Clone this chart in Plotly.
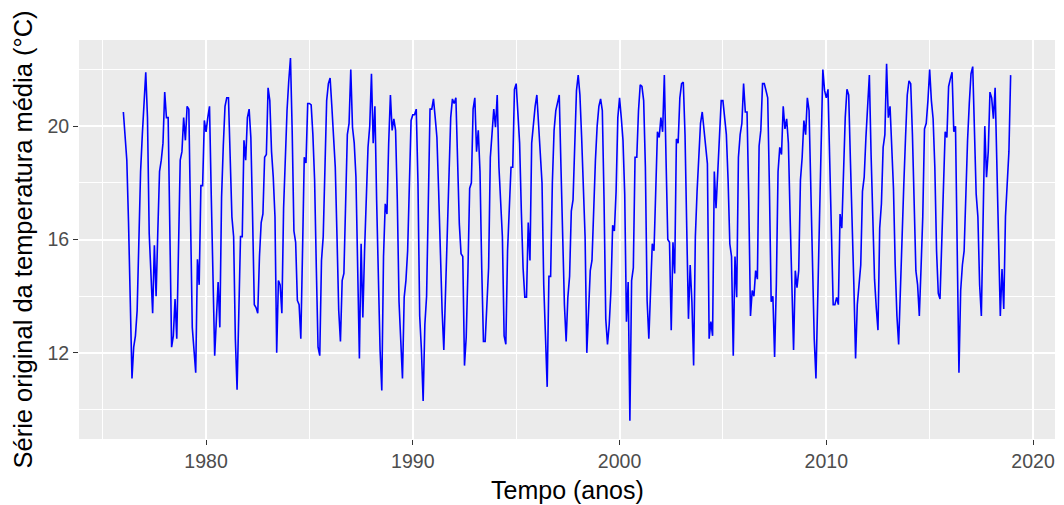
import plotly.graph_objects as go

# Monthly mean temperature (°C), Jan..Dec for each year
t1976 = [20.5, 19.7, 18.8, 16.6, 13.9, 11.1, 12.2, 12.6, 13.5, 16.1, 18.4, 19.7]
t1977 = [20.7, 21.9, 20.3, 16.2, 14.8, 13.4, 15.8, 14.0, 16.3, 18.4, 18.8, 19.4]
t1978 = [21.2, 20.3, 20.3, 16.1, 12.2, 12.6, 13.9, 12.5, 16.0, 18.8, 19.1, 20.3]
t1979 = [19.5, 20.7, 20.6, 16.5, 12.9, 12.1, 11.3, 15.3, 14.4, 17.9, 17.9, 20.2]
t1980 = [19.8, 20.3, 20.7, 17.6, 14.7, 11.9, 13.2, 14.5, 12.9, 17.5, 19.3, 20.7]
t1981 = [21.0, 21.0, 18.9, 16.8, 16.1, 12.5, 10.7, 13.4, 16.1, 16.1, 19.5, 18.8]
t1982 = [20.3, 20.6, 19.6, 16.8, 13.7, 13.6, 13.4, 15.4, 16.6, 16.9, 18.9, 19.0]
t1983 = [21.35, 20.9, 19.1, 18.2, 16.8, 12.0, 14.55, 14.4, 13.4, 17.1, 19.1, 20.55]
t1984 = [21.6, 22.4, 19.8, 16.3, 15.9, 13.85, 13.7, 12.5, 15.6, 18.9, 18.7, 20.8]
t1985 = [20.8, 20.75, 19.7, 18.1, 15.0, 12.2, 11.9, 15.26, 16.1, 18.8, 20.9, 21.5]
t1986 = [21.7, 20.7, 19.7, 18.55, 16.1, 13.5, 12.4, 14.55, 14.8, 17.7, 19.7, 20.1]
t1987 = [22.0, 19.96, 19.4, 18.2, 14.5, 11.8, 15.85, 13.25, 15.6, 17.6, 19.25, 20.0]
t1988 = [21.85, 19.4, 20.7, 17.4, 14.2, 12.1, 10.67, 15.4, 17.26, 16.9, 19.4, 21.1]
t1989 = [19.85, 20.26, 19.85, 17.4, 13.8, 12.3, 11.1, 13.96, 14.55, 15.6, 17.5, 20.2]
t1990 = [20.4, 20.4, 20.6, 18.0, 13.3, 12.1, 10.3, 13.0, 14.0, 17.5, 20.6, 20.6]
t1991 = [20.96, 20.3, 19.6, 17.7, 15.4, 13.5, 12.1, 14.2, 16.3, 18.55, 20.3, 20.96]
t1992 = [20.8, 21.0, 18.8, 16.55, 15.5, 15.4, 11.55, 12.55, 14.9, 17.8, 18.0, 20.6]
t1993 = [21.0, 19.1, 19.85, 18.4, 15.0, 12.4, 12.4, 13.5, 15.0, 18.9, 19.7, 20.6]
t1994 = [19.96, 21.1, 18.55, 17.4, 16.1, 12.6, 12.3, 15.6, 17.4, 18.55, 18.55, 21.3]
t1995 = [21.5, 20.3, 19.4, 17.0, 15.0, 13.96, 13.96, 16.6, 15.26, 19.4, 20.1, 20.7]
t1996 = [21.1, 20.1, 19.1, 18.0, 14.4, 12.3, 10.8, 14.7, 14.7, 18.0, 19.85, 20.55]
t1997 = [20.85, 21.1, 18.55, 15.6, 13.7, 12.4, 13.96, 14.7, 17.0, 17.4, 19.7, 21.26]
t1998 = [21.8, 21.1, 19.6, 17.5, 16.1, 12.0, 13.5, 14.9, 15.26, 17.4, 18.8, 20.0]
t1999 = [20.7, 20.96, 20.55, 17.4, 13.2, 12.3, 13.0, 14.2, 16.5, 16.3, 17.7, 20.3]
t2000 = [21.0, 20.3, 19.5, 17.6, 13.1, 14.5, 9.6, 14.55, 15.0, 18.9, 18.9, 20.55]
t2001 = [21.46, 21.4, 20.9, 18.55, 13.85, 12.5, 14.0, 15.85, 15.6, 17.96, 19.8, 19.6]
t2002 = [20.3, 19.8, 21.8, 18.8, 16.0, 15.9, 12.8, 15.9, 14.8, 19.55, 19.4, 21.0]
t2003 = [21.5, 21.55, 19.7, 16.4, 13.2, 15.1, 13.8, 11.55, 16.1, 17.7, 18.9, 20.1]
t2004 = [20.5, 19.96, 19.25, 18.67, 12.5, 13.1, 12.6, 18.4, 17.1, 18.3, 19.85, 20.9]
t2005 = [20.9, 20.4, 19.7, 18.1, 15.85, 15.4, 11.9, 15.4, 13.96, 18.9, 19.7, 20.1]
t2006 = [21.5, 20.5, 20.5, 17.4, 13.3, 14.2, 14.0, 14.9, 14.6, 19.3, 19.85, 21.5]
t2007 = [21.5, 21.26, 21.0, 17.8, 13.8, 14.0, 11.85, 14.4, 18.4, 19.25, 19.0, 20.7]
t2008 = [19.9, 20.26, 19.4, 16.8, 13.85, 12.1, 14.9, 14.3, 14.9, 18.1, 18.9, 20.2]
t2009 = [19.7, 21.0, 20.55, 18.0, 15.6, 12.5, 11.1, 14.1, 16.6, 18.8, 22.0, 21.26]
t2010 = [21.0, 21.3, 18.55, 16.1, 13.7, 13.7, 13.96, 13.7, 16.9, 16.4, 18.8, 20.3]
t2011 = [21.3, 21.1, 18.8, 16.8, 14.4, 11.8, 13.7, 14.4, 15.1, 17.7, 18.2, 19.6]
t2012 = [20.9, 21.8, 19.0, 16.5, 14.6, 13.6, 12.8, 16.4, 17.26, 19.25, 19.7, 22.2]
t2013 = [20.3, 20.7, 19.0, 17.8, 15.1, 13.3, 12.3, 14.4, 16.1, 17.96, 19.6, 21.1]
t2014 = [21.6, 21.5, 19.7, 17.4, 14.9, 14.4, 13.3, 15.0, 16.8, 19.9, 20.1, 20.9]
t2015 = [22.0, 20.9, 20.26, 18.55, 15.6, 14.1, 13.9, 15.85, 17.96, 19.8, 19.6, 21.4]
t2016 = [21.67, 21.9, 19.8, 20.0, 15.6, 11.3, 14.2, 15.1, 15.6, 17.7, 19.5, 20.8]
t2017 = [21.85, 22.1, 19.4, 17.6, 16.8, 14.4, 13.3, 16.8, 20.0, 18.2, 19.1, 21.2]
t2018 = [21.0, 20.26, 21.35, 18.67, 16.1, 13.3, 14.96, 13.55, 16.8, 17.96, 19.1, 21.8]

year_lists = [t1976, t1977, t1978, t1979, t1980, t1981, t1982, t1983, t1984, t1985,
              t1986, t1987, t1988, t1989, t1990, t1991, t1992, t1993, t1994, t1995,
              t1996, t1997, t1998, t1999, t2000, t2001, t2002, t2003, t2004, t2005,
              t2006, t2007, t2008, t2009, t2010, t2011, t2012, t2013, t2014, t2015,
              t2016, t2017, t2018]
start_year = 1976

x_tick_vals = [1980, 1990, 2000, 2010, 2020]
y_tick_vals = [12, 16, 20]

x = []
y = []
for i, vals in enumerate(year_lists):
    for m, v in enumerate(vals):
        x.append(start_year + i + m / 12)
        y.append(v)

# ggplot-like 5% expansion
xmin, xmax = min(x), max(x)
ymin, ymax = min(y), max(y)
xr = [xmin - 0.05 * (xmax - xmin), xmax + 0.05 * (xmax - xmin)]
yr = [ymin - 0.05 * (ymax - ymin), ymax + 0.05 * (ymax - ymin)]

fig = go.Figure(go.Scatter(x=x, y=y, mode="lines",
                           line=dict(color="#0000FF", width=1.6),
                           hoverinfo="skip"))

font_family = "Liberation Sans, Arial, Helvetica, sans-serif"
axis_common = dict(
    showgrid=True, gridcolor="#FFFFFF", gridwidth=1.6,
    zeroline=False, showline=False, automargin=False,
    ticks="outside", ticklen=5, tickwidth=1.1, tickcolor="#333333",
    tickfont=dict(family=font_family, size=19.5, color="#4D4D4D"),
)

fig.update_xaxes(range=xr, tickvals=x_tick_vals, ticktext=[str(v) for v in x_tick_vals],
                 minor=dict(tickvals=[1975, 1985, 1995, 2005, 2015],
                            showgrid=True, gridcolor="#FFFFFF", gridwidth=0.8, ticks=""),
                 **axis_common)
fig.update_yaxes(range=yr, tickvals=y_tick_vals, ticktext=[str(v) for v in y_tick_vals],
                 minor=dict(tickvals=[10, 14, 18, 22],
                            showgrid=True, gridcolor="#FFFFFF", gridwidth=0.8, ticks=""),
                 **axis_common)

# the page body adds an 8px offset, so the figure is sized/margined to compensate
fig.update_layout(
    width=1056, height=497,
    margin=dict(l=71, r=9, t=32, b=66, autoexpand=False),
    paper_bgcolor="#FFFFFF", plot_bgcolor="#EBEBEB",
    showlegend=False,
    font=dict(family=font_family),
    annotations=[
        dict(text="Tempo (anos)", x=0.5, y=0, xref="paper", yref="paper",
             xanchor="center", yanchor="middle", yshift=-51, showarrow=False,
             font=dict(family=font_family, size=25, color="#000000")),
        dict(text="Série original da temperatura média (°C)", x=0, y=0.5,
             xref="paper", yref="paper", xanchor="center", yanchor="middle",
             xshift=-57, textangle=-90, showarrow=False,
             font=dict(family=font_family, size=25.5, color="#000000")),
    ],
)

fig.write_html("out.html")
